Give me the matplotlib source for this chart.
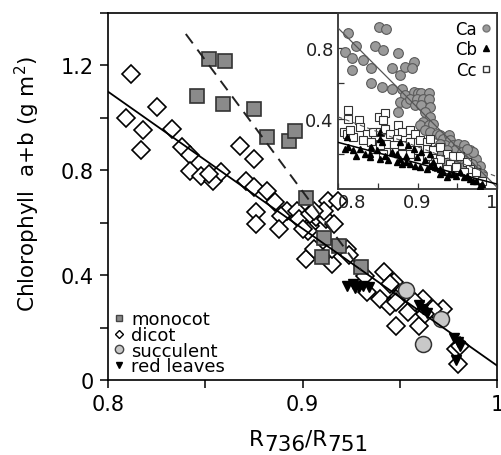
import numpy as np
import matplotlib
matplotlib.use("Agg")
import matplotlib.pyplot as plt
from matplotlib.lines import Line2D

plt.rcParams["font.family"] = "DejaVu Sans"
plt.rcParams["mathtext.default"] = "regular"

# ---- main panel data: chlorophyll a+b vs R736/R751 ----
mono_x = [0.852, 0.860, 0.846, 0.859, 0.875, 0.882, 0.893, 0.896, 0.902,
          0.911, 0.919, 0.910, 0.930]
mono_y = [1.225, 1.215, 1.083, 1.053, 1.032, 0.926, 0.911, 0.949, 0.695,
          0.540, 0.513, 0.468, 0.430]

dicot_x = [0.812, 0.809, 0.825, 0.818, 0.817, 0.833, 0.838, 0.842, 0.842,
           0.848, 0.854, 0.858, 0.852, 0.868, 0.875, 0.871, 0.875, 0.882,
           0.886, 0.892, 0.889, 0.888, 0.876, 0.876, 0.897, 0.898, 0.904,
           0.907, 0.913, 0.912, 0.903, 0.902, 0.906, 0.915, 0.915, 0.918,
           0.904, 0.911, 0.916, 0.900, 0.923, 0.924, 0.932, 0.942, 0.947,
           0.933, 0.940, 0.948, 0.945, 0.954, 0.948, 0.960, 0.962, 0.972,
           0.967, 0.979, 0.980, 0.945, 0.948, 0.958, 0.963, 0.981, 0.906]
dicot_y = [1.168, 0.999, 1.041, 0.955, 0.878, 0.958, 0.888, 0.859, 0.799,
           0.780, 0.761, 0.793, 0.786, 0.894, 0.843, 0.761, 0.735, 0.720,
           0.678, 0.646, 0.627, 0.576, 0.640, 0.595, 0.646, 0.614, 0.589,
           0.621, 0.684, 0.614, 0.570, 0.462, 0.500, 0.443, 0.500, 0.684,
           0.634, 0.646, 0.595, 0.576, 0.500, 0.475, 0.398, 0.411, 0.373,
           0.335, 0.309, 0.309, 0.284, 0.258, 0.207, 0.207, 0.309, 0.271,
           0.271, 0.118, 0.061, 0.366, 0.296, 0.296, 0.252, 0.131, 0.646]

succ_x = [0.953, 0.971, 0.962]
succ_y = [0.345, 0.233, 0.137]

red_x = [0.923, 0.926, 0.929, 0.931, 0.934, 0.927, 0.960, 0.962, 0.964,
         0.978, 0.980, 0.981, 0.979]
red_y = [0.360, 0.365, 0.355, 0.360, 0.355, 0.350, 0.285, 0.270, 0.255,
         0.160, 0.145, 0.130, 0.075]

fit_all_x = [0.80, 1.00]
fit_all_y = [1.10, 0.055]
fit_mono_x = [0.84, 0.93]
fit_mono_y = [1.32, 0.42]

# ---- inset data: Ca, Cb, Cc ----
ca_x = [0.813, 0.852, 0.860, 0.809, 0.818, 0.823, 0.817, 0.832, 0.842, 0.847,
        0.857, 0.876, 0.868, 0.878, 0.884, 0.895, 0.893, 0.842, 0.855, 0.868,
        0.880, 0.884, 0.895, 0.901, 0.905, 0.914, 0.878, 0.886, 0.876, 0.891,
        0.899, 0.907, 0.914, 0.897, 0.905, 0.916, 0.909, 0.916, 0.907, 0.903,
        0.914, 0.920, 0.909, 0.916, 0.924, 0.928, 0.932, 0.939, 0.941, 0.935,
        0.928, 0.924, 0.945, 0.951, 0.958, 0.947, 0.956, 0.962, 0.966, 0.970,
        0.964, 0.958, 0.949, 0.941, 0.974, 0.979, 0.974, 0.981, 0.968, 0.958,
        0.949, 0.937, 0.930, 0.935, 0.970, 0.962]
ca_y = [0.886, 0.918, 0.910, 0.781, 0.743, 0.810, 0.676, 0.733, 0.686, 0.810,
        0.790, 0.771, 0.686, 0.648, 0.695, 0.724, 0.686, 0.600, 0.581, 0.571,
        0.571, 0.533, 0.552, 0.543, 0.543, 0.543, 0.495, 0.486, 0.438, 0.514,
        0.514, 0.514, 0.514, 0.476, 0.476, 0.467, 0.438, 0.410, 0.381, 0.362,
        0.362, 0.371, 0.333, 0.324, 0.314, 0.305, 0.286, 0.305, 0.276, 0.248,
        0.257, 0.229, 0.248, 0.257, 0.248, 0.219, 0.210, 0.200, 0.219, 0.190,
        0.171, 0.162, 0.171, 0.190, 0.171, 0.133, 0.114, 0.086, 0.143, 0.124,
        0.133, 0.219, 0.200, 0.162, 0.210, 0.229]

cb_x = [0.811, 0.813, 0.809, 0.819, 0.828, 0.834, 0.840, 0.842, 0.853, 0.853,
        0.855, 0.849, 0.859, 0.868, 0.874, 0.878, 0.880, 0.886, 0.891, 0.897,
        0.903, 0.912, 0.916, 0.922, 0.928, 0.932, 0.939, 0.945, 0.949, 0.958,
        0.966, 0.974, 0.981, 0.878, 0.888, 0.895, 0.905, 0.916, 0.853, 0.863,
        0.874, 0.899, 0.909, 0.920, 0.928, 0.937, 0.953, 0.962, 0.970, 0.979,
        0.840, 0.823, 0.886]
cb_y = [0.295, 0.238, 0.229, 0.219, 0.229, 0.200, 0.200, 0.238, 0.324, 0.286,
        0.267, 0.219, 0.190, 0.210, 0.200, 0.171, 0.143, 0.152, 0.143, 0.133,
        0.124, 0.114, 0.133, 0.124, 0.114, 0.095, 0.086, 0.086, 0.076, 0.067,
        0.057, 0.048, 0.029, 0.267, 0.248, 0.229, 0.210, 0.200, 0.171, 0.162,
        0.152, 0.181, 0.162, 0.152, 0.086, 0.067, 0.095, 0.076, 0.048, 0.019,
        0.181, 0.190, 0.190]

cc_x = [0.812, 0.813, 0.826, 0.851, 0.859, 0.857, 0.807, 0.811, 0.828, 0.836,
        0.819, 0.844, 0.853, 0.859, 0.876, 0.865, 0.880, 0.891, 0.897, 0.874,
        0.832, 0.842, 0.853, 0.861, 0.870, 0.880, 0.891, 0.903, 0.912, 0.916,
        0.912, 0.920, 0.928, 0.899, 0.891, 0.880, 0.870, 0.857, 0.844, 0.937,
        0.945, 0.953, 0.928, 0.920, 0.912, 0.962, 0.941, 0.949, 0.966, 0.974,
        0.981, 0.958, 0.937, 0.926, 0.853, 0.815]
cc_y = [0.448, 0.400, 0.390, 0.410, 0.429, 0.390, 0.324, 0.314, 0.352, 0.314,
        0.295, 0.324, 0.324, 0.343, 0.362, 0.314, 0.324, 0.333, 0.314, 0.286,
        0.276, 0.267, 0.257, 0.257, 0.248, 0.248, 0.267, 0.276, 0.267, 0.286,
        0.229, 0.219, 0.238, 0.219, 0.200, 0.200, 0.210, 0.200, 0.229, 0.200,
        0.190, 0.190, 0.171, 0.152, 0.190, 0.152, 0.143, 0.124, 0.114, 0.095,
        0.048, 0.095, 0.114, 0.124, 0.248, 0.333]

fit_ca_y = [0.915, 0.010]
fit_cb_y = [0.265, 0.028]
fit_cc_y = [0.410, 0.070]
fit_in_x = [0.80, 1.00]

W, H = 501, 456
fig = plt.figure(figsize=(W / 100, H / 100), dpi=100)
ax = fig.add_axes([108 / W, 1 - 381 / H, 389 / W, 367 / H])
ins = fig.add_axes([338 / W, 1 - 190 / H, 159 / W, 176 / H])

# main scatter
ax.plot(dicot_x, dicot_y, "D", ms=9.2, mfc="white", mec="black", mew=1.2,
        ls="none", zorder=2)
ax.plot(mono_x, mono_y, "s", ms=9.5, mfc="#8a8a8a", mec="#333333", mew=1.2,
        ls="none", zorder=3)
ax.plot(succ_x, succ_y, "o", ms=11.5, mfc="#c8c8c8", mec="#333333", mew=1.1,
        ls="none", zorder=3)
ax.plot(red_x, red_y, "v", ms=7, mfc="black", mec="black", ls="none",
        zorder=4)
ax.plot(fit_all_x, fit_all_y, "-", color="black", lw=1.3, zorder=5)
ax.plot(fit_mono_x, fit_mono_y, color="#222222", lw=1.4, ls=(0, (6, 4)),
        zorder=5)

ax.set_xlim(0.8, 1.0)
ax.set_ylim(0, 1.4)
ax.set_xticks([0.8, 0.9, 1.0])
ax.set_xticklabels(["0.8", "0.9", "1"])
ax.set_xticks([0.85, 0.95], minor=True)
ax.set_yticks([0, 0.4, 0.8, 1.2])
ax.set_yticklabels(["0", "0.4", "0.8", "1.2"])
ax.set_yticks([0.2, 0.6, 1.0, 1.4], minor=True)
ax.tick_params(which="both", direction="out", length=6, width=1.1,
               labelsize=15, pad=4, top=False, right=False)
for sp in ax.spines.values():
    sp.set_linewidth(1.2)

ax.set_ylabel("Chlorophyll  a+b (g m$^{2}$)", fontsize=15.5)
ax.yaxis.set_label_coords(-0.17, 0.537)

handles = [
    Line2D([], [], marker="s", ms=5, mfc="#8a8a8a", mec="#444444", ls="none"),
    Line2D([], [], marker="D", ms=4.5, mfc="white", mec="black", ls="none"),
    Line2D([], [], marker="o", ms=6, mfc="#c8c8c8", mec="#444444", ls="none"),
    Line2D([], [], marker="v", ms=5, mfc="black", mec="black", ls="none"),
]
ax.legend(handles, ["monocot", "dicot", "succulent", "red leaves"],
          loc="lower left", bbox_to_anchor=(0.0, 0.0), frameon=False,
          fontsize=13, handlelength=0.7, handletextpad=0.35,
          labelspacing=-0.12, borderpad=0.1, borderaxespad=0.15)

# x label with same-size "subscripts"
pieces = [("R", 5), ("736", 0), ("/R", 5), ("751", 0)]
rend = fig.canvas.get_renderer()
placed = []
total = 0.0
for s, dy in pieces:
    t = fig.text(0, 0, s, fontsize=15.5, ha="left", va="baseline")
    w = t.get_window_extent(rend).width
    placed.append((t, total, dy))
    total += w
x0 = 309 - total / 2
for t, xo, dy in placed:
    t.set_position(((x0 + xo) / W, (H - 451 + dy) / H))

# inset
ins.set_facecolor("white")
ins.plot(ca_x, ca_y, "o", ms=7, mfc="#9a9a9a", mec="#5a5a5a", mew=0.8,
         ls="none", zorder=2)
ins.plot(cc_x, cc_y, "s", ms=5.8, mfc="white", mec="#333333", mew=0.8,
         ls="none", zorder=3)
ins.plot(cb_x, cb_y, "^", ms=4.5, mfc="black", mec="black", ls="none",
         zorder=4)
ins.plot(fit_in_x, fit_ca_y, "-", color="#555555", lw=0.9, zorder=5)
ins.plot(fit_in_x, fit_cb_y, "-", color="black", lw=1.1, zorder=5)
ins.plot(fit_in_x, fit_cc_y, color="#555555", lw=0.8, ls=(0, (4, 3)),
         zorder=5)
ins.set_xlim(0.8, 1.0)
ins.set_ylim(0, 1.0)
ins.set_xticks([0.8, 0.9, 1.0])
ins.set_xticklabels(["0.8", "0.9", "1"])
ins.set_xticks([0.85, 0.95], minor=True)
ins.set_yticks([0.4, 0.8])
ins.set_yticklabels(["0.4", "0.8"])
ins.set_yticks([0.2, 0.6], minor=True)
ins.tick_params(which="both", direction="in", length=4, width=0.9,
                labelsize=13, pad=3, colors="#333333")
for lab in ins.get_xticklabels() + ins.get_yticklabels():
    lab.set_family(["Liberation Sans Narrow", "DejaVu Sans"])
    lab.set_color("#222222")
xl = ins.get_xticklabels()
xl[0].set_ha("left")
xl[-1].set_ha("right")
for sp in ins.spines.values():
    sp.set_linewidth(1.3)
    sp.set_color("#333333")

in_handles = [
    Line2D([], [], marker="o", ms=5, mfc="#9a9a9a", mec="#777777", ls="none"),
    Line2D([], [], marker="^", ms=4.5, mfc="black", mec="black", ls="none"),
    Line2D([], [], marker="s", ms=5, mfc="white", mec="#333333", ls="none"),
]
ins.legend(in_handles, ["Ca", "Cb", "Cc"], loc="upper right", frameon=False,
           markerfirst=False, fontsize=12, handlelength=0.5,
           handletextpad=0.3, labelspacing=0.15, borderpad=0.2,
           borderaxespad=0.2)

fig.savefig("out.png", dpi=100)
